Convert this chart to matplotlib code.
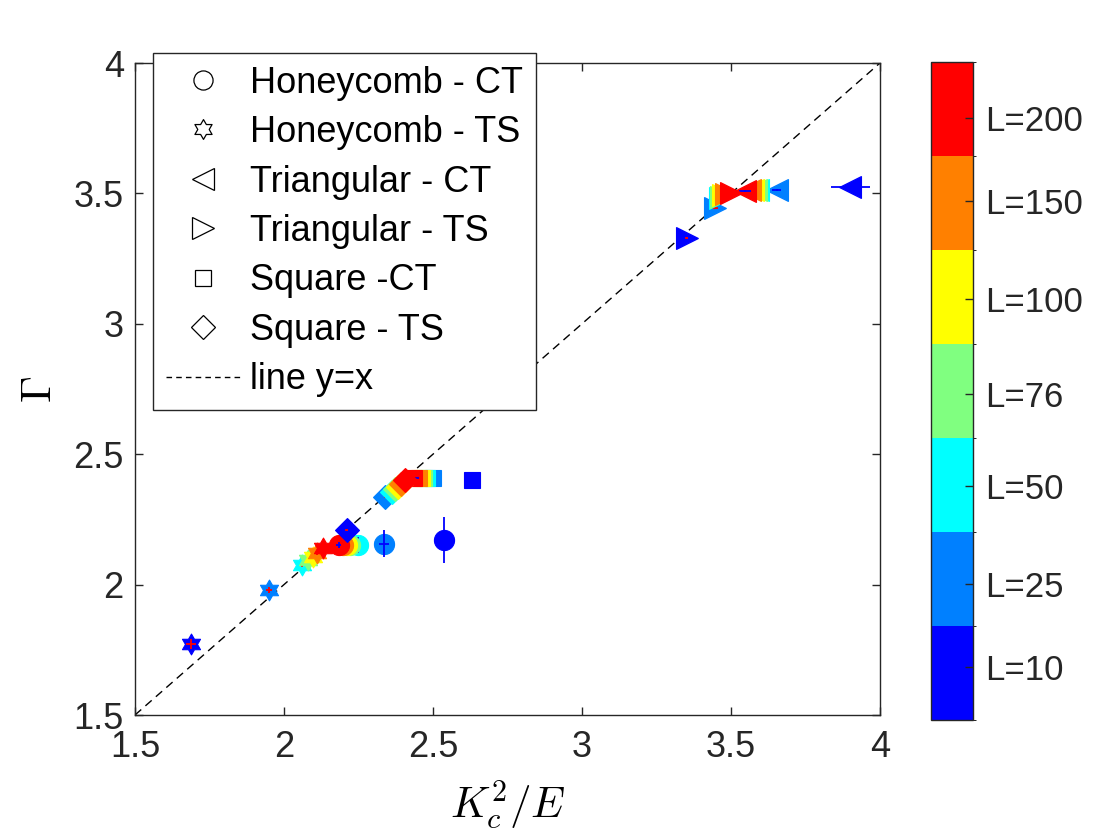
import numpy as np
import matplotlib
matplotlib.use('Agg')
import matplotlib.pyplot as plt
from matplotlib.colors import ListedColormap, BoundaryNorm
from matplotlib.path import Path
from matplotlib.lines import Line2D
import matplotlib.colorbar as mcolorbar

plt.rcParams['font.family'] = ['Liberation Sans', 'DejaVu Sans']
plt.rcParams['mathtext.fontset'] = 'cm'

# system sizes, one colour each (jet with 7 levels)
L_labels = ['L=10', 'L=25', 'L=50', 'L=76', 'L=100', 'L=150', 'L=200']
L_tick_pos = [0.56, 1.45, 2.49, 3.47, 4.48, 5.52, 6.41]
jet7 = [(0, 0, 1), (0, 0.5, 1), (0, 1, 1), (0.5, 1, 0.5),
        (1, 1, 0), (1, 0.5, 0), (1, 0, 0)]

# Honeycomb - CT
hc_ct_x = [2.536, 2.336, 2.248, 2.221, 2.210, 2.199, 2.184]
hc_ct_y = [2.171, 2.156, 2.152, 2.152, 2.152, 2.152, 2.152]
hc_ct_xe = [0.015, 0.016, 0.008, 0.009, 0.009, 0.009, 0.009]
hc_ct_ye = [0.088, 0.052, 0.030, 0.012, 0.012, 0.012, 0.012]

# Honeycomb - TS
hc_ts_x = [1.688, 1.951, 2.059, 2.082, 2.098, 2.110, 2.132]
hc_ts_y = [1.772, 1.979, 2.075, 2.094, 2.107, 2.120, 2.139]
hc_ts_xe = [0.017, 0.010, 0.006, 0.006, 0.006, 0.006, 0.006]
hc_ts_ye = [0.019, 0.011, 0.006, 0.006, 0.006, 0.006, 0.006]

# Triangular - CT
tr_ct_x = [3.900, 3.653, 3.592, 3.584, 3.575, 3.565, 3.547]
tr_ct_y = [3.524, 3.513, 3.513, 3.513, 3.513, 3.513, 3.510]
tr_ct_xe = [0.066, 0.015, 0.010, 0.010, 0.010, 0.012, 0.020]
tr_ct_ye = [0.004, 0.004, 0.004, 0.004, 0.004, 0.004, 0.004]

# Triangular - TS
tr_ts_x = [3.351, 3.446, 3.463, 3.468, 3.474, 3.483, 3.500]
tr_ts_y = [3.330, 3.443, 3.481, 3.487, 3.494, 3.498, 3.500]
tr_ts_xe = [0.004, 0.010, 0.004, 0.004, 0.004, 0.004, 0.004]
tr_ts_ye = [0.004, 0.004, 0.004, 0.004, 0.004, 0.004, 0.004]

# Square - CT
sq_ct_x = [2.630, 2.501, 2.480, 2.470, 2.463, 2.453, 2.436]
sq_ct_y = [2.401, 2.408, 2.408, 2.408, 2.408, 2.408, 2.408]
sq_ct_xe = [0.004, 0.004, 0.006, 0.008, 0.010, 0.012, 0.017]
sq_ct_ye = [0.004, 0.015, 0.006, 0.006, 0.006, 0.006, 0.006]

# Square - TS
sq_ts_x = [2.210, 2.339, 2.361, 2.372, 2.383, 2.393, 2.406]
sq_ts_y = [2.209, 2.337, 2.356, 2.367, 2.376, 2.386, 2.401]
sq_ts_xe = [0.004, 0.004, 0.004, 0.004, 0.004, 0.004, 0.004]
sq_ts_ye = [0.004, 0.004, 0.004, 0.004, 0.004, 0.004, 0.004]

hexagram = Path.unit_regular_star(6, innerCircle=0.57735)

series = [
    ('Honeycomb - CT', 'o', 14.5, 'b', hc_ct_x, hc_ct_y, hc_ct_xe, hc_ct_ye),
    ('Honeycomb - TS', hexagram, 15, 'r', hc_ts_x, hc_ts_y, hc_ts_xe, hc_ts_ye),
    ('Triangular - CT', '<', 16, 'b', tr_ct_x, tr_ct_y, tr_ct_xe, tr_ct_ye),
    ('Triangular - TS', '>', 16, 'r', tr_ts_x, tr_ts_y, tr_ts_xe, tr_ts_ye),
    ('Square -CT', 's', 11.5, 'b', sq_ct_x, sq_ct_y, sq_ct_xe, sq_ct_ye),
    ('Square - TS', 'D', 12.5, 'r', sq_ts_x, sq_ts_y, sq_ts_xe, sq_ts_ye),
]

dark = '#262626'
fig = plt.figure(figsize=(11.2, 8.4), dpi=100)
ax = fig.add_axes([0.1205, 0.1488, 0.6652, 0.7762])

ax.plot([1.5, 4], [1.5, 4], color='k', lw=1, dashes=(6, 4))

for name, mk, ms, ec, xs, ys, xe, ye in series:
    for i in range(len(xs)):
        ax.plot(xs[i], ys[i], ls='none', marker=mk, ms=ms,
                color=jet7[i], mec=jet7[i], mew=0.8)
        ax.errorbar(xs[i], ys[i], xerr=xe[i], yerr=ye[i], fmt='none',
                    ecolor=ec, elinewidth=1.3, capsize=0)

ax.set_xlim(1.5, 4)
ax.set_ylim(1.5, 4)
ax.set_xticks([1.5, 2, 2.5, 3, 3.5, 4])
ax.set_yticks([1.5, 2, 2.5, 3, 3.5, 4])
ax.set_xticklabels(['1.5', '2', '2.5', '3', '3.5', '4'])
ax.set_yticklabels(['1.5', '2', '2.5', '3', '3.5', '4'])
ax.tick_params(direction='in', length=6, width=1, top=True, right=True,
               labelsize=26, colors=dark)
ax.tick_params(axis='x', pad=11)
ax.tick_params(axis='y', pad=8)
for s in ax.spines.values():
    s.set_color(dark)
    s.set_linewidth(1)
ax.set_xlabel(r'$K_c^2/E$', fontsize=31, labelpad=9)
ax.set_ylabel(r'$\Gamma$', fontsize=31, labelpad=10)

handles = []
for name, mk, ms, ec, xs, ys, xe, ye in series:
    handles.append(Line2D([], [], ls='none', marker=mk, ms=ms * 0.95, mfc='none',
                          mec='k', mew=0.9, label=name))
handles.append(Line2D([], [], color='k', lw=1, dashes=(4, 3), label='line y=x'))
leg = ax.legend(handles=handles, loc='upper left',
                bbox_to_anchor=(0.1366, 0.9369), bbox_transform=fig.transFigure,
                fontsize=26, frameon=True, fancybox=False, borderaxespad=0,
                handlelength=2.05, handletextpad=0.3, labelspacing=0.4,
                borderpad=0.35)
leg.get_frame().set_edgecolor(dark)
leg.get_frame().set_linewidth(1)
leg.get_frame().set_alpha(1)

cax = fig.add_axes([0.8313, 0.1429, 0.0375, 0.783])
cmap = ListedColormap(jet7)
norm = BoundaryNorm(np.arange(8), cmap.N)
cb = mcolorbar.ColorbarBase(cax, cmap=cmap, norm=norm, orientation='vertical')
cb.set_ticks(L_tick_pos)
cb.set_ticklabels(L_labels)
cb.ax.tick_params(direction='in', length=6, width=1, labelsize=25,
                  colors=dark, pad=9)
cb.outline.set_edgecolor(dark)
cb.outline.set_linewidth(1)

fig.savefig('out.png', dpi=100)
